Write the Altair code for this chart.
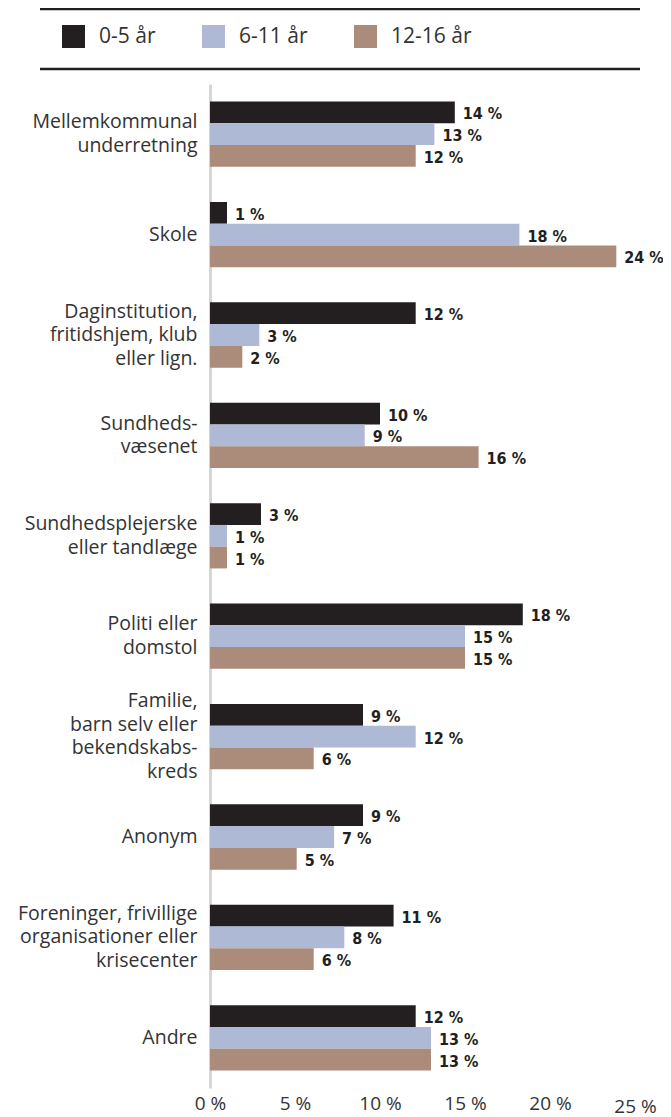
import altair as alt
import pandas as pd

categories = [
    "Mellemkommunal|underretning",
    "Skole",
    "Daginstitution,|fritidshjem, klub|eller lign.",
    "Sundheds-|væsenet",
    "Sundhedsplejerske|eller tandlæge",
    "Politi eller|domstol",
    "Familie,|barn selv eller|bekendskabs-|kreds",
    "Anonym",
    "Foreninger, frivillige|organisationer eller|krisecenter",
    "Andre",
]
groups = ["0-5 år", "6-11 år", "12-16 år"]
age_0_5 = [14.4, 1.0, 12.1, 10.0, 3.0, 18.4, 9.0, 9.0, 10.8, 12.1]
age_6_11 = [13.2, 18.2, 2.9, 9.1, 1.0, 15.0, 12.1, 7.3, 7.9, 13.0]
age_12_16 = [12.1, 23.9, 1.9, 15.8, 1.0, 15.0, 6.1, 5.1, 6.1, 13.0]
colors = ["#231f20", "#adb9d5", "#ab8b7a"]
x_ticks = [0, 5, 10, 15, 20, 25]

rows = []
for g, series in zip(groups, [age_0_5, age_6_11, age_12_16]):
    for c, v in zip(categories, series):
        rows.append({"cat": c, "group": g, "value": v, "label": f"{round(v)} %"})
df = pd.DataFrame(rows)

LH = 23.5
label_offset = {
    "condition": [
        {"test": "length(split(datum.label, '|')) == 4", "value": -1.5 * LH},
        {"test": "length(split(datum.label, '|')) == 3", "value": -1.0 * LH},
        {"test": "length(split(datum.label, '|')) == 2", "value": -0.5 * LH},
    ],
    "value": 0,
}

base = alt.Chart(df).encode(
    y=alt.Y(
        "cat:N",
        sort=categories,
        title=None,
        scale=alt.Scale(paddingInner=0.35, paddingOuter=0.175),
        axis=alt.Axis(
            labelExpr="split(datum.label, '|')",
            labelFont="Open Sans",
            labelFontSize=19.5,
            labelColor="#333333",
            labelLineHeight=LH,
            labelPadding=13,
            labelOffset=label_offset,
            ticks=False,
            domainColor="#d6d6d6",
            domainWidth=3,
            grid=False,
            labelLimit=300,
        ),
    ),
    yOffset=alt.YOffset("group:N", sort=groups, scale=alt.Scale(paddingInner=0, paddingOuter=0)),
)

bars = base.mark_bar().encode(
    x=alt.X(
        "value:Q",
        title=None,
        scale=alt.Scale(domain=[0, 25], nice=False),
        axis=alt.Axis(
            values=x_ticks,
            labelExpr="datum.value + ' %'",
            labelFont="Open Sans",
            labelFontSize=19,
            labelColor="#333333",
            ticks=False,
            domain=False,
            grid=False,
            labelPadding={"condition": {"test": "datum.value == 25", "value": 9}, "value": 6},
            labelFlush=False,
        ),
    ),
    color=alt.Color(
        "group:N",
        sort=groups,
        scale=alt.Scale(domain=groups, range=colors),
        legend=alt.Legend(
            title=None,
            orient="none",
            direction="horizontal",
            legendX=-148,
            legendY=-59,
            symbolType="square",
            symbolSize=529,
            symbolStrokeWidth=0,
            symbolOpacity=1,
            labelFont="Open Sans",
            labelFontSize=21,
            labelColor="#333333",
            labelOffset=14,
            columnPadding=46,
            padding=0,
        ),
    ),
)

texts = base.mark_text(
    align="left",
    baseline="middle",
    dx=8,
    dy=2,
    font="DejaVu Sans Condensed",
    fontWeight="bold",
    fontSize=16,
    color="#231f20",
).encode(x=alt.X("value:Q"), text="label:N")

one = pd.DataFrame({"a": [1]})
rule_top = alt.Chart(one).mark_rule(color="#231f20", strokeWidth=2.5).encode(
    x=alt.value(-170), x2=alt.value(430), y=alt.value(-75)
)
rule_bot = alt.Chart(one).mark_rule(color="#231f20", strokeWidth=2.5).encode(
    x=alt.value(-170), x2=alt.value(430), y=alt.value(-15)
)

chart = (
    alt.layer(bars, texts, rule_top, rule_bot)
    .properties(
        width=425,
        height=1004,
        autosize=alt.AutoSizeParams(type="none"),
        padding={"left": 202, "top": 76, "right": 28, "bottom": 28},
    )
    .configure_view(stroke=None)
)

chart.save("out.html", embed_options={"renderer": "svg", "actions": False})
